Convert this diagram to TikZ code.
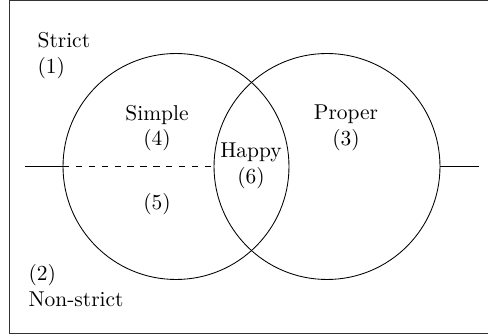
\documentclass[tikz,border=0pt]{standalone}
\usetikzlibrary{positioning}

\begin{document}
\begin{tikzpicture}[x=0.466pt,y=-0.466pt,thin,
    set/.style={circle,draw,minimum size=105.3pt,inner sep=0pt,outer sep=0pt},
    region/.style={align=center}]
  \useasboundingbox (0,0) rectangle (488,334);
  \draw[black!80] (488,0.8) -- (9,0.8) -- (9,333) -- (488,333);
  \node[set] (simple) at (176,166.5) {};
  \node[set] (proper) at (327,166.5) {};
  \coordinate (lend) at (25,166.5);
  \coordinate (rend) at (479,166.5);
  \node[region] (r4) at (157,128) {Simple\\(4)};
  \node[region] (r3) at (346,128) {Proper\\(3)};
  \node[region] (r6) at (251,166) {Happy\\(6)};
  \node (r5) at (157,204.5) {(5)};
  \node[align=left,anchor=north west] (r1) at (30,25) {Strict\\(1)};
  \node[align=left,anchor=north west] (r2) at (21,257) {(2)\\Non-strict};
  \path
    (lend) edge (simple.west)
    (simple.west) edge[dashed] (proper.west)
    (proper.east) edge (rend);
\end{tikzpicture}
\end{document}
